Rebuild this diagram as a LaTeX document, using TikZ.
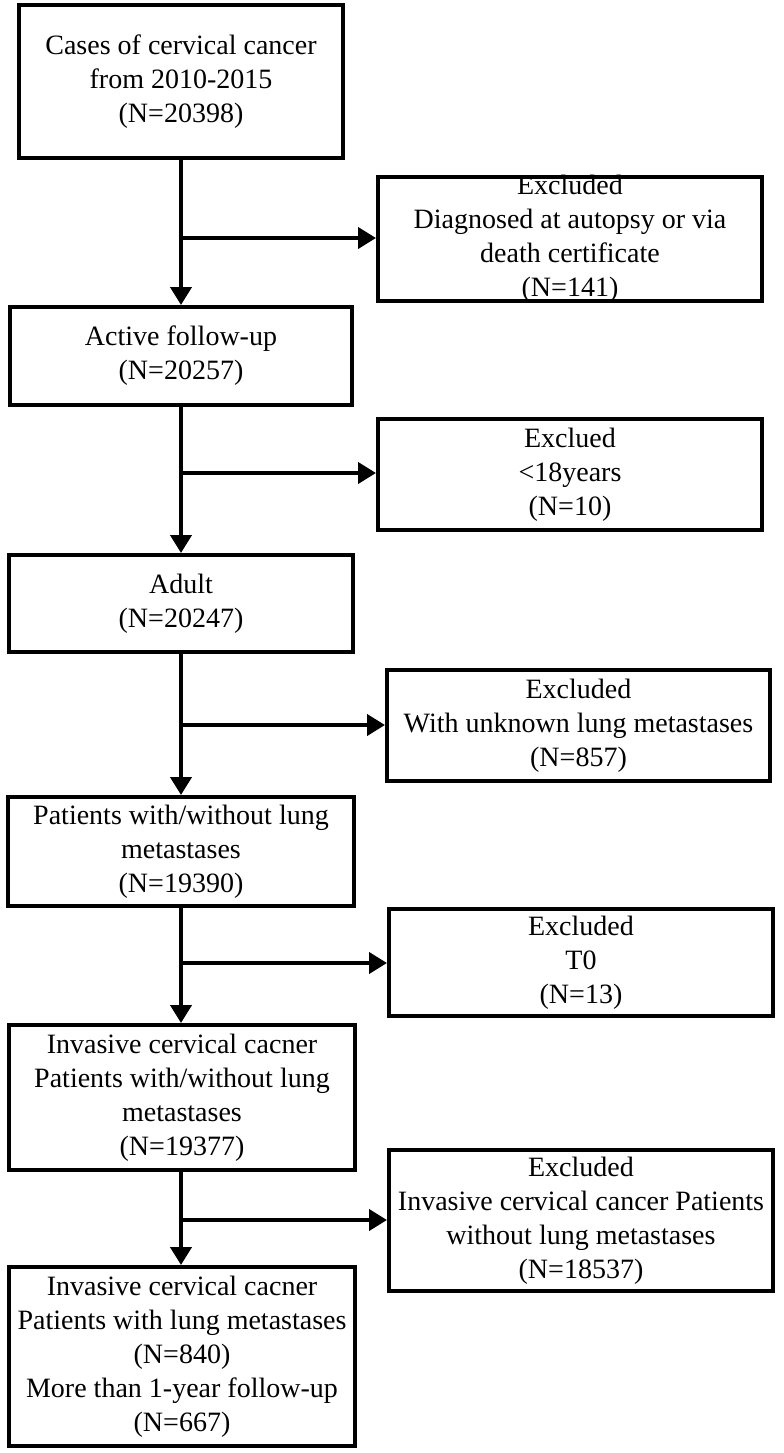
\documentclass[tikz,border=0pt]{standalone}
\usepackage{fontspec}
\setmainfont{Liberation Serif}
\usetikzlibrary{arrows.meta}
\begin{document}
\begin{tikzpicture}[x=0.5pt,y=-0.5pt,
  box/.style={draw=black,line width=2pt,fill=white,inner sep=0pt,align=center,
    font=\fontsize{14}{17}\selectfont},
  conn/.style={line width=2pt,-{Triangle[length=9pt,width=10.5pt]}},
  stem/.style={line width=2pt}]
\useasboundingbox[fill=white] (0,0) rectangle (783,1453);
% main column
\node[box,minimum width=162pt,minimum height=76.5pt] (b1) at (181,81.5) {Cases of cervical cancer\\from 2010-2015\\(N=20398)};
\node[box,minimum width=171pt,minimum height=49pt] (b2) at (181,356) {Active follow-up\\(N=20257)};
\node[box,minimum width=172pt,minimum height=48.5pt] (b3) at (181,603.5) {Adult\\(N=20247)};
\node[box,minimum width=173pt,minimum height=54.5pt] (b4) at (181,851.5) {Patients with/without lung\\metastases\\(N=19390)};
\node[box,minimum width=173pt,minimum height=72.5pt] (b5) at (182,1097.5) {Invasive cervical cacner\\Patients with/without lung\\metastases\\(N=19377)};
\node[box,minimum width=173pt,minimum height=89.5pt] (b6) at (182,1356.5) {Invasive cervical cacner\\Patients with lung metastases\\(N=840)\\More than 1-year follow-up\\(N=667)};
% excluded column
\node[box,minimum width=192pt,minimum height=62pt,inner ysep=-3pt] (e1) at (570,239) {Excluded\\Diagnosed at autopsy or via\\death certificate\\(N=141)};
\node[box,minimum width=192pt,minimum height=55.5pt] (e2) at (570,474.5) {Exclued\\<18years\\(N=10)};
\node[box,minimum width=191.5pt,minimum height=55.5pt] (e3) at (578.5,725.5) {Excluded\\With unknown lung metastases\\(N=857)};
\node[box,minimum width=192pt,minimum height=53.5pt] (e4) at (581,962.5) {Excluded\\T0\\(N=13)};
\node[box,minimum width=192pt,minimum height=70.5pt] (e5) at (581,1220.5) {Excluded\\Invasive cervical cancer Patients\\without lung metastases\\(N=18537)};
% junctions
\coordinate (j1) at (181,238);
\coordinate (j2) at (181,473);
\coordinate (j3) at (181,725);
\coordinate (j4) at (181,963);
\coordinate (j5) at (181,1220);
% connectors
\draw[conn] (b1.south -| j1) -- (b2.north -| j1);
\draw[conn] (b2.south -| j2) -- (b3.north -| j2);
\draw[conn] (b3.south -| j3) -- (b4.north -| j3);
\draw[conn] (b4.south -| j4) -- (b5.north -| j4);
\draw[conn] (b5.south -| j5) -- (b6.north -| j5);
\draw[conn] (j1) -- (j1 -| e1.west);
\draw[conn] (j2) -- (j2 -| e2.west);
\draw[conn] (j3) -- (j3 -| e3.west);
\draw[conn] (j4) -- (j4 -| e4.west);
\draw[conn] (j5) -- (j5 -| e5.west);
\end{tikzpicture}
\end{document}
